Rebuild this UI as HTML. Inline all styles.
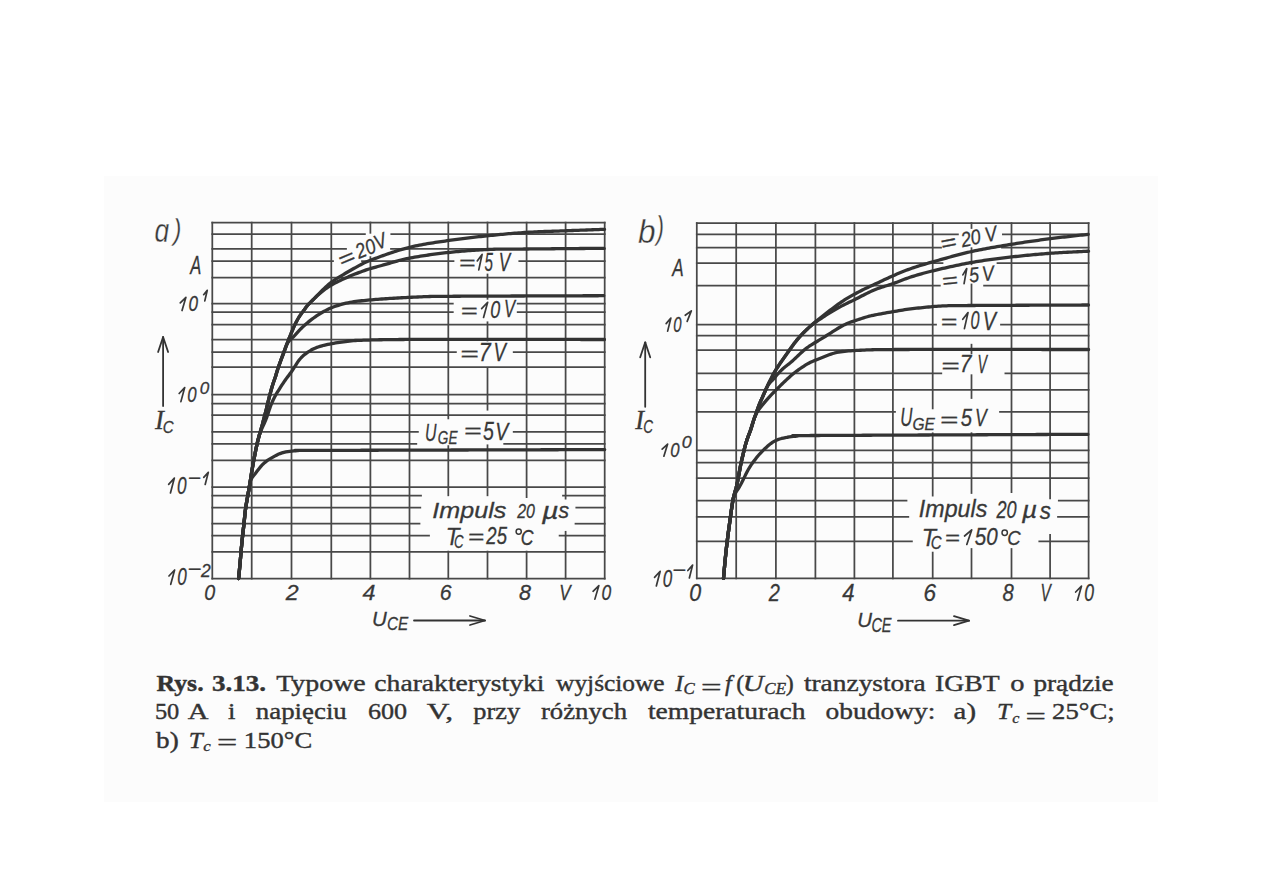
<!DOCTYPE html>
<html><head><meta charset="utf-8">
<style>
html,body{margin:0;padding:0;background:#fff;}
body{width:1263px;height:893px;position:relative;overflow:hidden;}
#scan{position:absolute;left:104px;top:176px;width:1054px;height:626px;background:#fcfcfc;}
svg{position:absolute;left:0;top:0;}
</style></head><body>
<div id="scan"></div>
<svg width="1263" height="893" viewBox="0 0 1263 893">
<g stroke="#484848" stroke-width="1.75" stroke-linecap="square">
<line x1="212.3" y1="222.5" x2="604.7" y2="222.5"/>
<line x1="212.3" y1="234.0" x2="364.9" y2="234.0"/>
<line x1="391.3" y1="234.0" x2="604.7" y2="234.0"/>
<line x1="212.3" y1="248.8" x2="346.0" y2="248.8"/>
<line x1="391.0" y1="248.8" x2="604.7" y2="248.8"/>
<line x1="212.3" y1="261.2" x2="333.0" y2="261.2"/>
<line x1="362.0" y1="261.2" x2="453.5" y2="261.2"/>
<line x1="519.3" y1="261.2" x2="604.7" y2="261.2"/>
<line x1="212.3" y1="277.5" x2="604.7" y2="277.5"/>
<line x1="212.3" y1="303.6" x2="452.8" y2="303.6"/>
<line x1="517.7" y1="303.6" x2="604.7" y2="303.6"/>
<line x1="212.3" y1="312.0" x2="452.8" y2="312.0"/>
<line x1="517.7" y1="312.0" x2="604.7" y2="312.0"/>
<line x1="212.3" y1="324.5" x2="604.7" y2="324.5"/>
<line x1="212.3" y1="339.5" x2="604.7" y2="339.5"/>
<line x1="212.3" y1="352.2" x2="455.9" y2="352.2"/>
<line x1="513.7" y1="352.2" x2="604.7" y2="352.2"/>
<line x1="212.3" y1="367.1" x2="604.7" y2="367.1"/>
<line x1="212.3" y1="394.6" x2="604.7" y2="394.6"/>
<line x1="212.3" y1="403.5" x2="604.7" y2="403.5"/>
<line x1="212.3" y1="415.2" x2="604.7" y2="415.2"/>
<line x1="212.3" y1="431.9" x2="417.9" y2="431.9"/>
<line x1="513.7" y1="431.9" x2="604.7" y2="431.9"/>
<line x1="212.3" y1="443.9" x2="416.3" y2="443.9"/>
<line x1="504.2" y1="443.9" x2="604.7" y2="443.9"/>
<line x1="212.3" y1="460.4" x2="604.7" y2="460.4"/>
<line x1="212.3" y1="487.0" x2="604.7" y2="487.0"/>
<line x1="212.3" y1="495.6" x2="421.0" y2="495.6"/>
<line x1="563.0" y1="495.6" x2="604.7" y2="495.6"/>
<line x1="212.3" y1="507.6" x2="420.3" y2="507.6"/>
<line x1="576.3" y1="507.6" x2="604.7" y2="507.6"/>
<line x1="212.3" y1="523.7" x2="419.5" y2="523.7"/>
<line x1="575.5" y1="523.7" x2="604.7" y2="523.7"/>
<line x1="212.3" y1="535.6" x2="429.0" y2="535.6"/>
<line x1="559.6" y1="535.6" x2="604.7" y2="535.6"/>
<line x1="212.3" y1="551.8" x2="604.7" y2="551.8"/>
<line x1="212.3" y1="578.5" x2="604.7" y2="578.5"/>
<line x1="212.3" y1="222.5" x2="212.3" y2="578.5"/>
<line x1="251.7" y1="222.5" x2="251.7" y2="578.5"/>
<line x1="291.5" y1="222.5" x2="291.5" y2="578.5"/>
<line x1="331.3" y1="222.5" x2="331.3" y2="578.5"/>
<line x1="370.4" y1="222.5" x2="370.4" y2="232.8"/>
<line x1="370.4" y1="257.0" x2="370.4" y2="578.5"/>
<line x1="409.5" y1="222.5" x2="409.5" y2="578.5"/>
<line x1="448.3" y1="222.5" x2="448.3" y2="418.4"/>
<line x1="448.3" y1="446.1" x2="448.3" y2="495.3"/>
<line x1="448.3" y1="551.6" x2="448.3" y2="578.5"/>
<line x1="487.5" y1="222.5" x2="487.5" y2="250.2"/>
<line x1="487.5" y1="274.5" x2="487.5" y2="298.8"/>
<line x1="487.5" y1="322.3" x2="487.5" y2="340.5"/>
<line x1="487.5" y1="368.0" x2="487.5" y2="409.7"/>
<line x1="487.5" y1="445.3" x2="487.5" y2="495.3"/>
<line x1="487.5" y1="551.6" x2="487.5" y2="578.5"/>
<line x1="526.6" y1="222.5" x2="526.6" y2="497.0"/>
<line x1="526.6" y1="551.6" x2="526.6" y2="578.5"/>
<line x1="565.6" y1="222.5" x2="565.6" y2="498.5"/>
<line x1="565.6" y1="531.8" x2="565.6" y2="578.5"/>
<line x1="604.7" y1="222.5" x2="604.7" y2="578.5"/>
</g>
<g stroke="#484848" stroke-width="1.75" stroke-linecap="square">
<line x1="696.8" y1="223.0" x2="1088.6" y2="223.0"/>
<line x1="696.8" y1="234.3" x2="957.9" y2="234.3"/>
<line x1="1002.9" y1="234.3" x2="1088.6" y2="234.3"/>
<line x1="696.8" y1="247.5" x2="941.0" y2="247.5"/>
<line x1="1002.0" y1="247.5" x2="1088.6" y2="247.5"/>
<line x1="696.8" y1="263.0" x2="942.5" y2="263.0"/>
<line x1="997.5" y1="263.0" x2="1088.6" y2="263.0"/>
<line x1="696.8" y1="285.5" x2="939.8" y2="285.5"/>
<line x1="984.1" y1="285.5" x2="1088.6" y2="285.5"/>
<line x1="696.8" y1="324.5" x2="936.0" y2="324.5"/>
<line x1="1001.0" y1="324.5" x2="1088.6" y2="324.5"/>
<line x1="696.8" y1="335.5" x2="1088.6" y2="335.5"/>
<line x1="696.8" y1="350.2" x2="1088.6" y2="350.2"/>
<line x1="696.8" y1="373.3" x2="941.3" y2="373.3"/>
<line x1="1005.4" y1="373.3" x2="1088.6" y2="373.3"/>
<line x1="696.8" y1="389.8" x2="1088.6" y2="389.8"/>
<line x1="696.8" y1="411.9" x2="895.0" y2="411.9"/>
<line x1="1000.0" y1="411.9" x2="1088.6" y2="411.9"/>
<line x1="696.8" y1="450.3" x2="1088.6" y2="450.3"/>
<line x1="696.8" y1="462.5" x2="1088.6" y2="462.5"/>
<line x1="696.8" y1="478.0" x2="1088.6" y2="478.0"/>
<line x1="696.8" y1="500.6" x2="906.5" y2="500.6"/>
<line x1="1058.8" y1="500.6" x2="1088.6" y2="500.6"/>
<line x1="696.8" y1="516.9" x2="908.3" y2="516.9"/>
<line x1="1058.0" y1="516.9" x2="1088.6" y2="516.9"/>
<line x1="696.8" y1="541.4" x2="911.9" y2="541.4"/>
<line x1="1039.3" y1="541.4" x2="1088.6" y2="541.4"/>
<line x1="696.8" y1="578.3" x2="1088.6" y2="578.3"/>
<line x1="696.8" y1="223.0" x2="696.8" y2="578.3"/>
<line x1="736.2" y1="223.0" x2="736.2" y2="578.3"/>
<line x1="775.9" y1="223.0" x2="775.9" y2="578.3"/>
<line x1="815.4" y1="223.0" x2="815.4" y2="578.3"/>
<line x1="854.4" y1="223.0" x2="854.4" y2="578.3"/>
<line x1="892.9" y1="223.0" x2="892.9" y2="578.3"/>
<line x1="932.7" y1="223.0" x2="932.7" y2="408.4"/>
<line x1="932.7" y1="433.3" x2="932.7" y2="495.6"/>
<line x1="932.7" y1="552.6" x2="932.7" y2="578.3"/>
<line x1="971.5" y1="223.0" x2="971.5" y2="228.0"/>
<line x1="971.5" y1="248.2" x2="971.5" y2="264.3"/>
<line x1="971.5" y1="284.5" x2="971.5" y2="304.7"/>
<line x1="971.5" y1="344.7" x2="971.5" y2="353.3"/>
<line x1="971.5" y1="375.2" x2="971.5" y2="398.0"/>
<line x1="971.5" y1="433.2" x2="971.5" y2="493.0"/>
<line x1="971.5" y1="549.0" x2="971.5" y2="578.3"/>
<line x1="1011.5" y1="223.0" x2="1011.5" y2="492.0"/>
<line x1="1011.5" y1="549.0" x2="1011.5" y2="578.3"/>
<line x1="1050.1" y1="223.0" x2="1050.1" y2="498.3"/>
<line x1="1050.1" y1="534.8" x2="1050.1" y2="578.3"/>
<line x1="1088.6" y1="223.0" x2="1088.6" y2="578.3"/>
</g>
<g fill="none" stroke="#333" stroke-width="3.3" stroke-linecap="round" stroke-linejoin="round">
<path d="M238.60,578.50 L238.79,576.51 L238.99,574.52 L239.18,572.53 L239.37,570.54 L239.56,568.55 L239.75,566.56 L239.93,564.56 L240.11,562.57 L240.29,560.58 L240.47,558.59 L240.64,556.59 L240.80,554.60 L240.97,552.61 L241.15,550.62 L241.32,548.62 L241.51,546.63 L241.70,544.64 L241.90,542.65 L242.10,540.66 L242.31,538.67 L242.52,536.68 L242.74,534.70 L242.95,532.71 L243.17,530.72 L243.40,528.73 L243.62,526.74 L243.84,524.76 L244.05,522.77 L244.26,520.78 L244.46,518.79 L244.66,516.80 L244.87,514.81 L245.08,512.82 L245.31,510.83 L245.56,508.85 L245.84,506.87 L246.15,504.90 L246.48,502.92 L246.83,500.96 L247.18,498.99 L247.54,497.02 L247.89,495.05 L248.25,493.08 L248.60,491.11 L248.94,489.14 L249.28,487.17 L249.61,485.20 L249.94,483.23 L250.26,481.25 L250.58,479.28 L250.89,477.30 L251.20,475.33 L251.51,473.35 L251.82,471.38 L252.15,469.40 L252.48,467.43 L252.83,465.46 L253.18,463.49 L253.54,461.52 L253.91,459.56 L254.28,457.59 L254.66,455.63 L255.04,453.67 L255.43,451.70 L255.82,449.74 L256.23,447.79 L256.66,445.83 L257.10,443.88 L257.56,441.94 L258.03,439.99 L258.53,438.05 L259.03,436.12 L259.56,434.19 L260.12,432.27 L260.69,430.35 L261.26,428.44 L261.83,426.52 L262.37,424.60 L262.87,422.66 L263.37,420.72 L263.86,418.79 L264.36,416.85 L264.88,414.92 L265.40,412.99 L265.90,411.05 L266.38,409.11 L266.84,407.16 L267.30,405.22 L267.75,403.27 L268.22,401.32 L268.70,399.38 L269.19,397.45 L269.70,395.51 L270.21,393.58 L270.72,391.64 L271.25,389.71 L271.78,387.79 L272.35,385.87 L272.95,383.96 L273.59,382.07 L274.25,380.18 L274.91,378.30 L275.54,376.40 L276.12,374.49 L276.69,372.57 L277.26,370.66 L277.86,368.75 L278.50,366.85 L279.15,364.97 L279.83,363.08 L280.52,361.21 L281.21,359.33 L281.91,357.46 L282.62,355.59 L283.33,353.72 L284.03,351.84 L284.72,349.97 L285.40,348.09 L286.08,346.21 L286.77,344.33 L287.47,342.46 L288.20,340.59 L288.94,338.73 L289.69,336.88 L290.45,335.03 L291.21,333.18 L291.98,331.34 L292.76,329.49 L293.55,327.66 L294.38,325.84 L295.23,324.03 L296.13,322.24 L297.06,320.48 L298.04,318.73 L299.06,317.01 L300.14,315.34 L301.29,313.71 L302.49,312.12 L303.69,310.53 L304.86,308.92 L306.02,307.31 L307.25,305.74 L308.56,304.25 L309.95,302.82 L311.38,301.43 L312.80,300.02 L314.21,298.60 L315.60,297.16 L316.98,295.72 L318.37,294.28 L319.77,292.86 L321.19,291.44 L322.61,290.04 L324.05,288.64 L325.49,287.27 L326.96,285.91 L328.46,284.59 L329.99,283.31 L331.57,282.08 L333.19,280.90 L334.84,279.78 L336.52,278.70 L338.22,277.64 L339.93,276.60 L341.64,275.57 L343.36,274.55 L345.08,273.53 L346.80,272.52 L348.54,271.52 L350.27,270.53 L352.01,269.54 L353.75,268.55 L355.49,267.57 L357.23,266.58 L358.98,265.61 L360.74,264.67 L362.52,263.75 L364.31,262.87 L366.13,262.04 L367.97,261.25 L369.82,260.50 L371.68,259.78 L373.55,259.07 L375.43,258.37 L377.30,257.68 L379.18,256.99 L381.06,256.30 L382.94,255.62 L384.82,254.94 L386.71,254.27 L388.59,253.61 L390.48,252.96 L392.38,252.32 L394.28,251.70 L396.19,251.11 L398.11,250.54 L400.03,249.99 L401.96,249.46 L403.89,248.95 L405.83,248.45 L407.76,247.95 L409.70,247.44 L411.63,246.92 L413.57,246.42 L415.51,245.96 L417.46,245.53 L419.42,245.13 L421.39,244.77 L423.36,244.41 L425.33,244.07 L427.30,243.74 L429.27,243.41 L431.25,243.09 L433.22,242.78 L435.20,242.47 L437.18,242.17 L439.15,241.87 L441.13,241.58 L443.11,241.29 L445.09,241.01 L447.07,240.73 L449.05,240.46 L451.03,240.19 L453.02,239.93 L455.00,239.67 L456.98,239.41 L458.97,239.15 L460.95,238.90 L462.93,238.64 L464.92,238.40 L466.90,238.15 L468.89,237.91 L470.87,237.67 L472.86,237.43 L474.85,237.19 L476.83,236.96 L478.82,236.73 L480.81,236.51 L482.79,236.29 L484.78,236.07 L486.77,235.86 L488.76,235.65 L490.75,235.44 L492.74,235.24 L494.73,235.04 L496.72,234.84 L498.71,234.65 L500.70,234.46 L502.69,234.27 L504.68,234.09 L506.68,233.91 L508.67,233.73 L510.66,233.56 L512.65,233.40 L514.65,233.23 L516.64,233.08 L518.64,232.93 L520.63,232.78 L522.63,232.64 L524.62,232.50 L526.62,232.38 L528.61,232.25 L530.61,232.14 L532.61,232.04 L534.60,231.94 L536.60,231.84 L538.60,231.76 L540.60,231.67 L542.60,231.60 L544.60,231.52 L546.59,231.45 L548.59,231.38 L550.59,231.31 L552.59,231.24 L554.59,231.18 L556.59,231.11 L558.59,231.04 L560.59,230.97 L562.58,230.90 L564.58,230.82 L566.58,230.75 L568.58,230.67 L570.58,230.59 L572.58,230.51 L574.58,230.44 L576.57,230.36 L578.57,230.28 L580.57,230.21 L582.57,230.13 L584.57,230.06 L586.57,229.98 L588.57,229.91 L590.56,229.83 L592.56,229.76 L594.56,229.68 L596.56,229.61 L598.56,229.53 L600.56,229.46 L602.56,229.38 L604.55,229.31"/>
<path d="M238.60,578.50 L238.79,576.51 L238.99,574.52 L239.18,572.53 L239.37,570.54 L239.56,568.55 L239.75,566.56 L239.93,564.56 L240.11,562.57 L240.29,560.58 L240.47,558.59 L240.64,556.59 L240.80,554.60 L240.97,552.61 L241.15,550.62 L241.32,548.62 L241.51,546.63 L241.70,544.64 L241.90,542.65 L242.10,540.66 L242.31,538.67 L242.52,536.68 L242.74,534.70 L242.95,532.71 L243.17,530.72 L243.40,528.73 L243.62,526.74 L243.84,524.76 L244.05,522.77 L244.26,520.78 L244.46,518.79 L244.66,516.80 L244.87,514.81 L245.08,512.82 L245.31,510.83 L245.56,508.85 L245.84,506.87 L246.15,504.90 L246.48,502.92 L246.83,500.96 L247.18,498.99 L247.54,497.02 L247.89,495.05 L248.25,493.08 L248.60,491.11 L248.94,489.14 L249.28,487.17 L249.61,485.20 L249.94,483.23 L250.26,481.25 L250.58,479.28 L250.89,477.30 L251.20,475.33 L251.51,473.35 L251.82,471.38 L252.15,469.40 L252.48,467.43 L252.83,465.46 L253.18,463.49 L253.54,461.52 L253.91,459.56 L254.28,457.59 L254.66,455.63 L255.04,453.67 L255.43,451.70 L255.82,449.74 L256.23,447.79 L256.66,445.83 L257.10,443.88 L257.56,441.94 L258.03,439.99 L258.53,438.05 L259.03,436.12 L259.56,434.19 L260.12,432.27 L260.69,430.35 L261.26,428.44 L261.83,426.52 L262.37,424.60 L262.87,422.66 L263.37,420.72 L263.86,418.79 L264.36,416.85 L264.88,414.92 L265.40,412.99 L265.90,411.05 L266.38,409.11 L266.84,407.16 L267.30,405.22 L267.75,403.27 L268.22,401.32 L268.70,399.38 L269.19,397.45 L269.70,395.51 L270.21,393.58 L270.72,391.64 L271.25,389.71 L271.78,387.79 L272.35,385.87 L272.95,383.96 L273.59,382.07 L274.25,380.18 L274.91,378.30 L275.54,376.40 L276.12,374.49 L276.69,372.57 L277.26,370.66 L277.86,368.75 L278.50,366.85 L279.15,364.97 L279.83,363.08 L280.52,361.21 L281.21,359.33 L281.91,357.46 L282.62,355.59 L283.33,353.72 L284.03,351.84 L284.72,349.97 L285.40,348.09 L286.08,346.21 L286.77,344.33 L287.47,342.46 L288.20,340.59 L288.94,338.73 L289.69,336.88 L290.45,335.03 L291.21,333.18 L291.98,331.34 L292.76,329.49 L293.55,327.66 L294.38,325.84 L295.23,324.03 L296.13,322.24 L297.06,320.48 L298.04,318.73 L299.06,317.01 L300.14,315.34 L301.29,313.71 L302.49,312.12 L303.69,310.53 L304.86,308.92 L306.02,307.31 L307.24,305.74 L308.55,304.24 L309.94,302.81 L311.37,301.42 L312.81,300.03 L314.24,298.63 L315.67,297.24 L317.11,295.85 L318.58,294.49 L320.08,293.17 L321.62,291.90 L323.19,290.66 L324.78,289.45 L326.40,288.28 L328.05,287.15 L329.72,286.06 L331.43,285.03 L333.17,284.04 L334.93,283.09 L336.71,282.18 L338.50,281.30 L340.31,280.45 L342.13,279.60 L343.95,278.78 L345.77,277.96 L347.60,277.16 L349.44,276.37 L351.29,275.60 L353.14,274.84 L354.99,274.09 L356.85,273.36 L358.72,272.63 L360.59,271.93 L362.46,271.23 L364.35,270.57 L366.24,269.92 L368.14,269.30 L370.05,268.70 L371.97,268.13 L373.89,267.58 L375.81,267.04 L377.74,266.51 L379.67,265.99 L381.60,265.47 L383.53,264.94 L385.46,264.41 L387.39,263.87 L389.31,263.31 L391.22,262.74 L393.14,262.17 L395.06,261.60 L396.98,261.05 L398.91,260.53 L400.85,260.04 L402.80,259.58 L404.75,259.14 L406.70,258.72 L408.66,258.32 L410.62,257.94 L412.59,257.57 L414.56,257.22 L416.53,256.88 L418.50,256.55 L420.48,256.23 L422.45,255.92 L424.43,255.61 L426.40,255.30 L428.38,255.00 L430.36,254.71 L432.34,254.43 L434.32,254.15 L436.30,253.88 L438.28,253.62 L440.27,253.38 L442.26,253.14 L444.24,252.91 L446.23,252.69 L448.22,252.49 L450.21,252.29 L452.20,252.09 L454.19,251.90 L456.18,251.72 L458.17,251.54 L460.17,251.36 L462.16,251.19 L464.15,251.03 L466.15,250.87 L468.14,250.71 L470.13,250.56 L472.13,250.41 L474.12,250.27 L476.12,250.14 L478.11,250.01 L480.11,249.89 L482.11,249.77 L484.11,249.66 L486.10,249.57 L488.10,249.48 L490.10,249.40 L492.10,249.33 L494.10,249.27 L496.10,249.22 L498.10,249.18 L500.10,249.15 L502.10,249.13 L504.09,249.11 L506.09,249.10 L508.09,249.09 L510.09,249.09 L512.09,249.08 L514.09,249.08 L516.09,249.07 L518.09,249.06 L520.09,249.05 L522.09,249.03 L524.09,249.02 L526.09,249.00 L528.09,248.98 L530.09,248.96 L532.09,248.94 L534.09,248.92 L536.09,248.90 L538.09,248.88 L540.09,248.87 L542.09,248.85 L544.09,248.83 L546.09,248.81 L548.09,248.79 L550.09,248.78 L552.09,248.76 L554.09,248.74 L556.09,248.72 L558.09,248.70 L560.09,248.69 L562.09,248.67 L564.09,248.65 L566.09,248.63 L568.09,248.62 L570.09,248.60 L572.09,248.58 L574.09,248.56 L576.09,248.55 L578.09,248.53 L580.09,248.51 L582.09,248.50 L584.09,248.48 L586.09,248.46 L588.09,248.44 L590.09,248.43 L592.09,248.41 L594.09,248.39 L596.09,248.37 L598.09,248.36 L600.09,248.34 L602.09,248.32 L604.09,248.31"/>
<path d="M238.60,578.50 L238.79,576.51 L238.99,574.52 L239.18,572.53 L239.37,570.54 L239.56,568.55 L239.75,566.56 L239.93,564.56 L240.11,562.57 L240.29,560.58 L240.47,558.59 L240.64,556.59 L240.80,554.60 L240.97,552.61 L241.15,550.62 L241.32,548.62 L241.51,546.63 L241.70,544.64 L241.90,542.65 L242.10,540.66 L242.31,538.67 L242.52,536.68 L242.74,534.70 L242.95,532.71 L243.17,530.72 L243.40,528.73 L243.62,526.74 L243.84,524.76 L244.05,522.77 L244.26,520.78 L244.46,518.79 L244.66,516.80 L244.87,514.81 L245.08,512.82 L245.31,510.83 L245.56,508.85 L245.84,506.87 L246.15,504.90 L246.48,502.92 L246.83,500.96 L247.18,498.99 L247.54,497.02 L247.89,495.05 L248.25,493.08 L248.60,491.11 L248.94,489.14 L249.28,487.17 L249.61,485.20 L249.94,483.23 L250.26,481.25 L250.58,479.28 L250.89,477.30 L251.20,475.33 L251.51,473.35 L251.82,471.38 L252.15,469.40 L252.48,467.43 L252.83,465.46 L253.18,463.49 L253.54,461.52 L253.91,459.56 L254.28,457.59 L254.66,455.63 L255.04,453.67 L255.43,451.70 L255.82,449.74 L256.23,447.79 L256.66,445.83 L257.10,443.88 L257.56,441.94 L258.03,439.99 L258.53,438.05 L259.03,436.12 L259.56,434.19 L260.12,432.27 L260.69,430.35 L261.26,428.44 L261.83,426.52 L262.37,424.60 L262.87,422.66 L263.37,420.72 L263.86,418.79 L264.36,416.85 L264.88,414.92 L265.40,412.99 L265.90,411.05 L266.38,409.11 L266.84,407.16 L267.30,405.22 L267.75,403.27 L268.22,401.32 L268.70,399.38 L269.19,397.45 L269.70,395.51 L270.21,393.58 L270.72,391.64 L271.25,389.71 L271.78,387.79 L272.35,385.87 L272.95,383.96 L273.59,382.07 L274.25,380.18 L274.91,378.30 L275.54,376.40 L276.12,374.49 L276.69,372.57 L277.26,370.66 L277.86,368.75 L278.50,366.85 L279.15,364.97 L279.83,363.08 L280.52,361.21 L281.21,359.33 L281.91,357.46 L282.62,355.59 L283.32,353.72 L284.02,351.84 L284.69,349.96 L285.36,348.08 L286.06,346.21 L286.84,344.39 L287.78,342.69 L288.94,341.14 L290.29,339.72 L291.74,338.37 L293.18,337.00 L294.57,335.58 L295.92,334.11 L297.26,332.62 L298.61,331.15 L299.99,329.70 L301.39,328.28 L302.83,326.89 L304.29,325.52 L305.77,324.19 L307.29,322.88 L308.83,321.61 L310.40,320.37 L312.00,319.17 L313.61,317.99 L315.24,316.83 L316.89,315.70 L318.56,314.59 L320.25,313.53 L321.97,312.51 L323.71,311.53 L325.47,310.58 L327.23,309.65 L329.02,308.76 L330.84,307.95 L332.70,307.21 L334.58,306.54 L336.48,305.92 L338.39,305.32 L340.30,304.75 L342.23,304.21 L344.16,303.69 L346.10,303.21 L348.05,302.78 L350.01,302.39 L351.98,302.05 L353.96,301.75 L355.94,301.48 L357.92,301.23 L359.91,300.99 L361.89,300.76 L363.88,300.54 L365.87,300.33 L367.86,300.14 L369.85,299.95 L371.85,299.78 L373.84,299.62 L375.83,299.46 L377.83,299.31 L379.82,299.16 L381.82,299.01 L383.81,298.87 L385.81,298.73 L387.80,298.60 L389.80,298.47 L391.79,298.35 L393.79,298.23 L395.79,298.11 L397.78,297.99 L399.78,297.88 L401.78,297.77 L403.77,297.66 L405.77,297.55 L407.77,297.44 L409.77,297.34 L411.76,297.25 L413.76,297.16 L415.76,297.07 L417.76,296.99 L419.76,296.90 L421.75,296.80 L423.75,296.70 L425.75,296.61 L427.75,296.53 L429.74,296.48 L431.74,296.44 L433.74,296.42 L435.74,296.40 L437.74,296.38 L439.74,296.36 L441.74,296.34 L443.74,296.33 L445.74,296.32 L447.74,296.30 L449.74,296.29 L451.74,296.28 L453.74,296.27 L455.74,296.26 L457.74,296.24 L459.74,296.23 L461.74,296.22 L463.74,296.22 L465.74,296.21 L467.74,296.20 L469.74,296.19 L471.74,296.18 L473.74,296.17 L475.74,296.16 L477.74,296.15 L479.74,296.14 L481.74,296.14 L483.74,296.13 L485.74,296.12 L487.74,296.11 L489.74,296.10 L491.74,296.10 L493.74,296.09 L495.74,296.08 L497.74,296.07 L499.74,296.07 L501.74,296.06 L503.74,296.05 L505.74,296.04 L507.74,296.04 L509.74,296.03 L511.74,296.02 L513.74,296.01 L515.74,296.01 L517.74,296.00 L519.74,295.99 L521.74,295.98 L523.74,295.98 L525.74,295.97 L527.74,295.96 L529.74,295.96 L531.74,295.95 L533.74,295.94 L535.74,295.94 L537.74,295.93 L539.74,295.92 L541.74,295.92 L543.74,295.91 L545.74,295.90 L547.74,295.89 L549.74,295.89 L551.74,295.88 L553.74,295.87 L555.74,295.87 L557.74,295.86 L559.74,295.85 L561.74,295.85 L563.74,295.84 L565.74,295.83 L567.74,295.83 L569.74,295.82 L571.74,295.81 L573.74,295.81 L575.74,295.80 L577.74,295.79 L579.74,295.79 L581.74,295.78 L583.74,295.77 L585.74,295.77 L587.74,295.76 L589.74,295.75 L591.74,295.75 L593.74,295.74 L595.74,295.73 L597.74,295.73 L599.74,295.72 L601.74,295.71 L603.74,295.70"/>
<path d="M238.60,578.50 L238.79,576.51 L238.99,574.52 L239.18,572.53 L239.37,570.54 L239.56,568.55 L239.75,566.56 L239.93,564.56 L240.11,562.57 L240.29,560.58 L240.47,558.59 L240.64,556.59 L240.80,554.60 L240.97,552.61 L241.15,550.62 L241.32,548.62 L241.51,546.63 L241.70,544.64 L241.90,542.65 L242.10,540.66 L242.31,538.67 L242.52,536.68 L242.74,534.70 L242.95,532.71 L243.17,530.72 L243.40,528.73 L243.62,526.74 L243.84,524.76 L244.05,522.77 L244.26,520.78 L244.46,518.79 L244.66,516.80 L244.87,514.81 L245.08,512.82 L245.31,510.83 L245.56,508.85 L245.84,506.87 L246.15,504.90 L246.48,502.92 L246.83,500.96 L247.18,498.99 L247.54,497.02 L247.89,495.05 L248.25,493.08 L248.60,491.11 L248.94,489.14 L249.28,487.17 L249.61,485.20 L249.94,483.23 L250.26,481.25 L250.58,479.28 L250.89,477.30 L251.20,475.33 L251.51,473.35 L251.82,471.38 L252.15,469.40 L252.48,467.43 L252.83,465.46 L253.18,463.49 L253.54,461.52 L253.91,459.56 L254.28,457.59 L254.66,455.63 L255.04,453.67 L255.43,451.70 L255.82,449.74 L256.23,447.79 L256.65,445.83 L257.08,443.88 L257.53,441.93 L257.99,439.98 L258.49,438.05 L259.03,436.12 L259.63,434.22 L260.31,432.34 L261.05,430.49 L261.84,428.65 L262.65,426.83 L263.48,425.01 L264.32,423.19 L265.13,421.36 L265.91,419.52 L266.63,417.66 L267.29,415.77 L267.93,413.88 L268.55,411.98 L269.18,410.08 L269.83,408.19 L270.51,406.31 L271.23,404.44 L271.99,402.59 L272.78,400.76 L273.63,398.95 L274.52,397.17 L275.48,395.41 L276.48,393.69 L277.53,391.98 L278.58,390.28 L279.65,388.59 L280.72,386.90 L281.80,385.22 L282.90,383.55 L284.02,381.89 L285.16,380.25 L286.32,378.62 L287.50,377.00 L288.70,375.40 L289.91,373.81 L291.11,372.21 L292.27,370.59 L293.37,368.93 L294.43,367.23 L295.47,365.53 L296.53,363.83 L297.63,362.16 L298.79,360.54 L300.03,358.98 L301.36,357.50 L302.79,356.11 L304.30,354.82 L305.87,353.59 L307.50,352.43 L309.16,351.33 L310.86,350.28 L312.60,349.31 L314.39,348.44 L316.23,347.66 L318.10,346.97 L320.00,346.36 L321.92,345.80 L323.85,345.28 L325.80,344.82 L327.75,344.40 L329.71,344.01 L331.68,343.66 L333.65,343.32 L335.62,342.99 L337.60,342.67 L339.57,342.36 L341.55,342.07 L343.53,341.79 L345.51,341.52 L347.49,341.26 L349.48,341.01 L351.47,340.80 L353.46,340.64 L355.45,340.52 L357.45,340.42 L359.45,340.35 L361.45,340.28 L363.45,340.21 L365.45,340.15 L367.44,340.09 L369.44,340.03 L371.44,339.97 L373.44,339.91 L375.44,339.86 L377.44,339.82 L379.44,339.77 L381.44,339.73 L383.44,339.70 L385.44,339.67 L387.44,339.64 L389.44,339.61 L391.44,339.59 L393.44,339.57 L395.44,339.55 L397.44,339.53 L399.44,339.51 L401.44,339.50 L403.44,339.48 L405.44,339.47 L407.44,339.46 L409.44,339.45 L411.44,339.44 L413.44,339.43 L415.44,339.42 L417.44,339.41 L419.44,339.40 L421.44,339.40 L423.44,339.39 L425.44,339.39 L427.44,339.38 L429.44,339.38 L431.44,339.37 L433.44,339.37 L435.44,339.37 L437.44,339.37 L439.44,339.36 L441.44,339.36 L443.44,339.36 L445.44,339.36 L447.44,339.36 L449.44,339.36 L451.44,339.36 L453.44,339.36 L455.44,339.36 L457.44,339.36 L459.44,339.36 L461.44,339.36 L463.44,339.36 L465.44,339.36 L467.44,339.36 L469.44,339.36 L471.44,339.36 L473.44,339.36 L475.44,339.36 L477.44,339.36 L479.44,339.36 L481.44,339.36 L483.44,339.37 L485.44,339.37 L487.44,339.37 L489.44,339.37 L491.44,339.37 L493.44,339.37 L495.44,339.37 L497.44,339.38 L499.44,339.38 L501.44,339.38 L503.44,339.38 L505.44,339.38 L507.44,339.39 L509.44,339.39 L511.44,339.39 L513.44,339.39 L515.44,339.39 L517.44,339.40 L519.44,339.40 L521.44,339.40 L523.44,339.40 L525.44,339.40 L527.44,339.41 L529.44,339.41 L531.44,339.41 L533.44,339.41 L535.44,339.42 L537.44,339.42 L539.44,339.42 L541.44,339.42 L543.44,339.43 L545.44,339.43 L547.44,339.43 L549.44,339.43 L551.44,339.44 L553.44,339.44 L555.44,339.44 L557.44,339.44 L559.44,339.45 L561.44,339.45 L563.44,339.45 L565.44,339.45 L567.44,339.46 L569.44,339.46 L571.44,339.46 L573.44,339.46 L575.44,339.47 L577.44,339.47 L579.44,339.47 L581.44,339.48 L583.44,339.48 L585.44,339.48 L587.44,339.48 L589.44,339.49 L591.44,339.49 L593.44,339.49 L595.44,339.49 L597.44,339.49 L599.44,339.50 L601.44,339.50 L603.44,339.50 L604.44,339.50"/>
<path d="M238.60,578.50 L238.79,576.51 L238.99,574.52 L239.18,572.53 L239.37,570.54 L239.56,568.55 L239.75,566.56 L239.93,564.56 L240.11,562.57 L240.29,560.58 L240.47,558.59 L240.64,556.59 L240.80,554.60 L240.97,552.61 L241.15,550.62 L241.32,548.62 L241.51,546.63 L241.70,544.64 L241.90,542.65 L242.10,540.66 L242.31,538.67 L242.52,536.68 L242.74,534.70 L242.95,532.71 L243.17,530.72 L243.40,528.73 L243.62,526.74 L243.84,524.76 L244.05,522.77 L244.26,520.78 L244.46,518.79 L244.66,516.80 L244.87,514.81 L245.08,512.82 L245.31,510.83 L245.56,508.85 L245.84,506.87 L246.15,504.90 L246.48,502.92 L246.83,500.96 L247.18,498.99 L247.54,497.02 L247.89,495.05 L248.24,493.08 L248.58,491.11 L248.91,489.14 L249.22,487.16 L249.54,485.19 L249.89,483.23 L250.35,481.32 L251.03,479.51 L251.96,477.84 L253.11,476.27 L254.35,474.74 L255.59,473.19 L256.81,471.61 L258.01,470.01 L259.22,468.42 L260.47,466.87 L261.79,465.37 L263.18,463.94 L264.65,462.61 L266.21,461.36 L267.84,460.22 L269.53,459.16 L271.25,458.14 L272.98,457.15 L274.72,456.16 L276.48,455.22 L278.27,454.34 L280.10,453.57 L281.98,452.91 L283.89,452.35 L285.84,451.90 L287.80,451.55 L289.78,451.28 L291.76,451.08 L293.73,450.92 L295.60,450.79 L297.15,450.70 L298.00,450.62 L297.87,450.57 L296.90,450.54 L295.67,450.52 L294.88,450.51 L295.03,450.50 L296.10,450.49 L297.78,450.48 L299.69,450.47 L301.68,450.46 L303.68,450.45 L305.68,450.45 L307.68,450.44 L309.68,450.43 L311.68,450.43 L313.68,450.42 L315.68,450.41 L317.68,450.41 L319.68,450.40 L321.68,450.39 L323.68,450.39 L325.68,450.38 L327.68,450.38 L329.68,450.37 L331.68,450.36 L333.68,450.36 L335.68,450.35 L337.68,450.34 L339.68,450.34 L341.68,450.33 L343.68,450.33 L345.68,450.32 L347.68,450.31 L349.68,450.31 L351.68,450.30 L353.68,450.30 L355.68,450.29 L357.68,450.29 L359.68,450.28 L361.68,450.27 L363.68,450.27 L365.68,450.26 L367.68,450.26 L369.68,450.25 L371.68,450.25 L373.68,450.24 L375.68,450.23 L377.68,450.23 L379.68,450.22 L381.68,450.22 L383.68,450.21 L385.68,450.21 L387.68,450.20 L389.68,450.19 L391.68,450.19 L393.68,450.18 L395.68,450.18 L397.68,450.17 L399.68,450.17 L401.68,450.16 L403.68,450.15 L405.68,450.15 L407.68,450.14 L409.68,450.14 L411.68,450.13 L413.68,450.13 L415.68,450.12 L417.68,450.11 L419.68,450.11 L421.68,450.10 L423.68,450.10 L425.68,450.09 L427.68,450.09 L429.68,450.08 L431.68,450.08 L433.68,450.07 L435.68,450.06 L437.68,450.06 L439.68,450.05 L441.68,450.05 L443.68,450.04 L445.68,450.04 L447.68,450.03 L449.68,450.03 L451.68,450.02 L453.68,450.01 L455.68,450.01 L457.68,450.00 L459.68,450.00 L461.68,449.99 L463.68,449.99 L465.68,449.98 L467.68,449.98 L469.68,449.97 L471.68,449.97 L473.68,449.96 L475.68,449.95 L477.68,449.95 L479.68,449.94 L481.68,449.94 L483.68,449.93 L485.68,449.93 L487.68,449.92 L489.68,449.92 L491.68,449.91 L493.68,449.90 L495.68,449.90 L497.68,449.89 L499.68,449.89 L501.68,449.88 L503.68,449.88 L505.68,449.87 L507.68,449.87 L509.68,449.86 L511.68,449.86 L513.68,449.85 L515.68,449.84 L517.68,449.84 L519.68,449.83 L521.68,449.83 L523.68,449.82 L525.68,449.82 L527.68,449.81 L529.68,449.81 L531.68,449.80 L533.68,449.80 L535.68,449.79 L537.68,449.78 L539.68,449.78 L541.68,449.77 L543.68,449.77 L545.68,449.76 L547.68,449.76 L549.68,449.75 L551.68,449.75 L553.68,449.74 L555.68,449.74 L557.68,449.73 L559.68,449.72 L561.68,449.72 L563.68,449.71 L565.68,449.71 L567.68,449.70 L569.68,449.70 L571.68,449.69 L573.68,449.69 L575.68,449.68 L577.68,449.67 L579.68,449.67 L581.68,449.66 L583.68,449.66 L585.68,449.65 L587.68,449.65 L589.68,449.64 L591.68,449.64 L593.68,449.63 L595.68,449.63 L597.68,449.62 L599.68,449.61 L601.68,449.61 L603.68,449.60 L604.68,449.60"/>
<path d="M723.50,578.30 L723.68,576.31 L723.85,574.32 L724.03,572.32 L724.20,570.33 L724.38,568.34 L724.56,566.35 L724.74,564.36 L724.93,562.36 L725.12,560.37 L725.31,558.38 L725.52,556.39 L725.72,554.40 L725.94,552.41 L726.15,550.43 L726.37,548.44 L726.60,546.45 L726.83,544.47 L727.07,542.48 L727.31,540.49 L727.56,538.51 L727.82,536.53 L728.07,534.54 L728.33,532.56 L728.60,530.58 L728.86,528.60 L729.13,526.61 L729.40,524.63 L729.67,522.65 L729.94,520.67 L730.21,518.69 L730.48,516.70 L730.75,514.72 L731.03,512.74 L731.30,510.76 L731.59,508.78 L731.88,506.80 L732.18,504.83 L732.50,502.85 L732.85,500.88 L733.23,498.92 L733.65,496.97 L734.12,495.02 L734.63,493.09 L735.19,491.17 L735.75,489.25 L736.28,487.33 L736.76,485.39 L737.19,483.44 L737.59,481.48 L737.96,479.51 L738.33,477.55 L738.69,475.58 L739.05,473.61 L739.41,471.65 L739.77,469.68 L740.14,467.71 L740.51,465.75 L740.91,463.79 L741.33,461.84 L741.78,459.89 L742.23,457.94 L742.70,455.99 L743.16,454.05 L743.63,452.10 L744.10,450.16 L744.58,448.22 L745.08,446.28 L745.61,444.35 L746.16,442.43 L746.75,440.52 L747.38,438.63 L748.06,436.75 L748.78,434.88 L749.50,433.02 L750.20,431.15 L750.86,429.26 L751.47,427.36 L752.05,425.44 L752.62,423.53 L753.21,421.62 L753.83,419.72 L754.49,417.83 L755.18,415.95 L755.87,414.07 L756.54,412.19 L757.19,410.30 L757.84,408.41 L758.51,406.53 L759.23,404.66 L759.98,402.81 L760.77,400.97 L761.58,399.15 L762.41,397.32 L763.23,395.50 L764.04,393.67 L764.85,391.85 L765.66,390.02 L766.48,388.19 L767.31,386.37 L768.15,384.56 L769.00,382.75 L769.88,380.95 L770.78,379.16 L771.69,377.38 L772.62,375.62 L773.58,373.86 L774.56,372.12 L775.57,370.39 L776.62,368.69 L777.69,367.00 L778.79,365.33 L779.91,363.68 L781.04,362.03 L782.19,360.39 L783.33,358.75 L784.48,357.11 L785.62,355.47 L786.78,353.83 L787.93,352.20 L789.09,350.57 L790.25,348.95 L791.42,347.32 L792.59,345.70 L793.77,344.08 L794.97,342.49 L796.20,340.91 L797.47,339.36 L798.76,337.84 L800.09,336.35 L801.45,334.88 L802.83,333.43 L804.23,332.01 L805.65,330.60 L807.09,329.21 L808.55,327.84 L810.03,326.50 L811.52,325.17 L813.03,323.86 L814.55,322.56 L816.10,321.29 L817.65,320.04 L819.22,318.80 L820.80,317.57 L822.38,316.35 L823.96,315.12 L825.53,313.88 L827.10,312.64 L828.67,311.40 L830.25,310.17 L831.84,308.95 L833.43,307.75 L835.04,306.55 L836.65,305.37 L838.27,304.20 L839.90,303.05 L841.55,301.91 L843.21,300.80 L844.89,299.72 L846.59,298.67 L848.31,297.64 L850.04,296.64 L851.78,295.65 L853.53,294.68 L855.29,293.73 L857.05,292.78 L858.82,291.85 L860.59,290.93 L862.37,290.02 L864.16,289.12 L865.96,288.25 L867.76,287.39 L869.58,286.54 L871.40,285.72 L873.22,284.89 L875.04,284.07 L876.86,283.24 L878.68,282.40 L880.49,281.55 L882.30,280.69 L884.10,279.84 L885.91,278.99 L887.73,278.14 L889.55,277.31 L891.37,276.49 L893.20,275.68 L895.03,274.89 L896.87,274.10 L898.71,273.32 L900.56,272.55 L902.41,271.80 L904.27,271.06 L906.13,270.33 L908.01,269.63 L909.89,268.95 L911.77,268.28 L913.66,267.64 L915.56,267.01 L917.47,266.39 L919.37,265.79 L921.28,265.20 L923.20,264.63 L925.12,264.06 L927.04,263.50 L928.96,262.95 L930.88,262.40 L932.81,261.85 L934.73,261.31 L936.66,260.76 L938.58,260.22 L940.50,259.67 L942.43,259.13 L944.35,258.58 L946.28,258.04 L948.20,257.50 L950.13,256.97 L952.06,256.44 L953.99,255.92 L955.92,255.40 L957.86,254.89 L959.79,254.38 L961.73,253.89 L963.67,253.40 L965.61,252.92 L967.56,252.45 L969.50,252.00 L971.45,251.56 L973.41,251.13 L975.36,250.71 L977.32,250.31 L979.28,249.91 L981.24,249.52 L983.21,249.14 L985.17,248.77 L987.14,248.41 L989.11,248.05 L991.08,247.70 L993.05,247.36 L995.02,247.02 L996.99,246.68 L998.96,246.35 L1000.93,246.02 L1002.91,245.69 L1004.88,245.37 L1006.85,245.04 L1008.83,244.72 L1010.80,244.40 L1012.78,244.08 L1014.75,243.76 L1016.73,243.45 L1018.70,243.14 L1020.68,242.84 L1022.66,242.54 L1024.63,242.24 L1026.61,241.95 L1028.59,241.66 L1030.57,241.37 L1032.55,241.09 L1034.53,240.81 L1036.51,240.53 L1038.49,240.26 L1040.47,239.99 L1042.46,239.72 L1044.44,239.46 L1046.42,239.20 L1048.40,238.94 L1050.39,238.68 L1052.37,238.43 L1054.36,238.18 L1056.34,237.94 L1058.33,237.70 L1060.31,237.46 L1062.30,237.23 L1064.29,237.00 L1066.27,236.78 L1068.26,236.55 L1070.25,236.33 L1072.24,236.11 L1074.22,235.89 L1076.21,235.67 L1078.20,235.45 L1080.19,235.23 L1082.18,235.01 L1084.16,234.79 L1086.15,234.57 L1088.14,234.35"/>
<path d="M723.50,578.30 L723.68,576.31 L723.85,574.32 L724.03,572.32 L724.20,570.33 L724.38,568.34 L724.56,566.35 L724.74,564.36 L724.93,562.36 L725.12,560.37 L725.31,558.38 L725.52,556.39 L725.72,554.40 L725.94,552.41 L726.15,550.43 L726.37,548.44 L726.60,546.45 L726.83,544.47 L727.07,542.48 L727.31,540.49 L727.56,538.51 L727.82,536.53 L728.07,534.54 L728.33,532.56 L728.60,530.58 L728.86,528.60 L729.13,526.61 L729.40,524.63 L729.67,522.65 L729.94,520.67 L730.21,518.69 L730.48,516.70 L730.75,514.72 L731.03,512.74 L731.30,510.76 L731.59,508.78 L731.88,506.80 L732.18,504.83 L732.50,502.85 L732.85,500.88 L733.23,498.92 L733.65,496.97 L734.12,495.02 L734.63,493.09 L735.19,491.17 L735.75,489.25 L736.28,487.33 L736.76,485.39 L737.19,483.44 L737.59,481.48 L737.96,479.51 L738.33,477.55 L738.69,475.58 L739.05,473.61 L739.41,471.65 L739.77,469.68 L740.14,467.71 L740.51,465.75 L740.91,463.79 L741.33,461.84 L741.78,459.89 L742.23,457.94 L742.70,455.99 L743.16,454.05 L743.63,452.10 L744.10,450.16 L744.58,448.22 L745.08,446.28 L745.61,444.35 L746.16,442.43 L746.75,440.52 L747.38,438.63 L748.06,436.75 L748.78,434.88 L749.50,433.02 L750.20,431.15 L750.86,429.26 L751.47,427.36 L752.05,425.44 L752.62,423.53 L753.21,421.62 L753.83,419.72 L754.49,417.83 L755.18,415.95 L755.87,414.07 L756.54,412.19 L757.19,410.30 L757.84,408.41 L758.51,406.53 L759.23,404.66 L759.98,402.81 L760.77,400.97 L761.58,399.15 L762.41,397.32 L763.23,395.50 L764.04,393.67 L764.85,391.85 L765.66,390.02 L766.48,388.19 L767.31,386.37 L768.15,384.56 L769.00,382.75 L769.88,380.95 L770.78,379.16 L771.69,377.38 L772.62,375.62 L773.58,373.86 L774.56,372.12 L775.57,370.39 L776.62,368.69 L777.69,367.00 L778.79,365.33 L779.91,363.68 L781.04,362.03 L782.19,360.39 L783.33,358.75 L784.48,357.11 L785.62,355.47 L786.78,353.83 L787.93,352.20 L789.09,350.57 L790.25,348.95 L791.42,347.32 L792.59,345.70 L793.77,344.08 L794.97,342.49 L796.20,340.91 L797.47,339.36 L798.76,337.84 L800.09,336.35 L801.45,334.88 L802.83,333.43 L804.22,332.00 L805.64,330.59 L807.08,329.20 L808.55,327.84 L810.04,326.52 L811.58,325.24 L813.14,324.00 L814.74,322.80 L816.36,321.63 L818.01,320.49 L819.67,319.38 L821.34,318.28 L823.02,317.19 L824.69,316.09 L826.36,314.99 L828.03,313.89 L829.71,312.81 L831.41,311.75 L833.12,310.72 L834.85,309.72 L836.59,308.74 L838.35,307.78 L840.11,306.84 L841.88,305.91 L843.66,305.00 L845.45,304.10 L847.25,303.23 L849.05,302.36 L850.86,301.50 L852.66,300.63 L854.45,299.74 L856.23,298.84 L858.01,297.92 L859.78,297.00 L861.56,296.08 L863.34,295.16 L865.12,294.26 L866.91,293.36 L868.71,292.48 L870.51,291.62 L872.33,290.78 L874.16,289.98 L876.01,289.23 L877.88,288.52 L879.76,287.86 L881.66,287.23 L883.57,286.63 L885.48,286.04 L887.39,285.46 L889.30,284.86 L891.20,284.24 L893.09,283.59 L894.97,282.91 L896.85,282.21 L898.71,281.50 L900.58,280.77 L902.44,280.05 L904.31,279.33 L906.18,278.63 L908.06,277.96 L909.96,277.31 L911.85,276.68 L913.76,276.07 L915.67,275.48 L917.58,274.90 L919.50,274.34 L921.43,273.80 L923.36,273.26 L925.29,272.75 L927.22,272.24 L929.16,271.75 L931.10,271.27 L933.04,270.80 L934.99,270.33 L936.93,269.86 L938.88,269.40 L940.83,268.94 L942.77,268.48 L944.72,268.03 L946.67,267.58 L948.62,267.14 L950.57,266.70 L952.53,266.27 L954.48,265.84 L956.43,265.42 L958.39,265.01 L960.35,264.60 L962.31,264.20 L964.27,263.81 L966.23,263.43 L968.20,263.06 L970.17,262.70 L972.14,262.35 L974.11,262.01 L976.08,261.69 L978.05,261.37 L980.03,261.06 L982.01,260.77 L983.99,260.48 L985.97,260.19 L987.95,259.92 L989.93,259.65 L991.91,259.38 L993.90,259.12 L995.88,258.87 L997.86,258.62 L999.85,258.38 L1001.83,258.13 L1003.82,257.89 L1005.81,257.66 L1007.79,257.42 L1009.78,257.19 L1011.76,256.96 L1013.75,256.73 L1015.74,256.51 L1017.73,256.29 L1019.72,256.07 L1021.70,255.86 L1023.69,255.66 L1025.68,255.45 L1027.67,255.26 L1029.66,255.06 L1031.66,254.87 L1033.65,254.69 L1035.64,254.51 L1037.63,254.33 L1039.62,254.16 L1041.62,253.99 L1043.61,253.82 L1045.60,253.66 L1047.60,253.50 L1049.59,253.35 L1051.59,253.21 L1053.58,253.07 L1055.58,252.93 L1057.57,252.81 L1059.57,252.69 L1061.56,252.57 L1063.56,252.46 L1065.56,252.35 L1067.56,252.24 L1069.55,252.14 L1071.55,252.03 L1073.55,251.93 L1075.55,251.84 L1077.54,251.74 L1079.54,251.64 L1081.54,251.55 L1083.54,251.45 L1085.53,251.35 L1087.53,251.25 L1088.53,251.20"/>
<path d="M723.50,578.30 L723.68,576.31 L723.85,574.32 L724.03,572.32 L724.20,570.33 L724.38,568.34 L724.56,566.35 L724.74,564.36 L724.93,562.36 L725.12,560.37 L725.31,558.38 L725.52,556.39 L725.72,554.40 L725.94,552.41 L726.15,550.43 L726.37,548.44 L726.60,546.45 L726.83,544.47 L727.07,542.48 L727.31,540.49 L727.56,538.51 L727.82,536.53 L728.07,534.54 L728.33,532.56 L728.60,530.58 L728.86,528.60 L729.13,526.61 L729.40,524.63 L729.67,522.65 L729.94,520.67 L730.21,518.69 L730.48,516.70 L730.75,514.72 L731.03,512.74 L731.30,510.76 L731.59,508.78 L731.88,506.80 L732.18,504.83 L732.50,502.85 L732.85,500.88 L733.23,498.92 L733.65,496.97 L734.12,495.02 L734.63,493.09 L735.19,491.17 L735.75,489.25 L736.28,487.33 L736.76,485.39 L737.19,483.44 L737.59,481.48 L737.96,479.51 L738.33,477.55 L738.69,475.58 L739.05,473.61 L739.41,471.65 L739.77,469.68 L740.14,467.71 L740.51,465.75 L740.91,463.79 L741.33,461.84 L741.78,459.89 L742.23,457.94 L742.70,455.99 L743.16,454.05 L743.63,452.10 L744.10,450.16 L744.58,448.22 L745.08,446.28 L745.61,444.35 L746.16,442.43 L746.75,440.52 L747.38,438.63 L748.06,436.75 L748.78,434.88 L749.50,433.02 L750.20,431.15 L750.86,429.26 L751.47,427.36 L752.05,425.44 L752.62,423.53 L753.21,421.62 L753.83,419.72 L754.49,417.83 L755.18,415.95 L755.87,414.07 L756.54,412.19 L757.19,410.30 L757.84,408.41 L758.51,406.53 L759.23,404.66 L759.98,402.81 L760.77,400.97 L761.58,399.15 L762.40,397.32 L763.21,395.49 L764.01,393.66 L764.79,391.82 L765.58,389.98 L766.40,388.17 L767.31,386.40 L768.36,384.73 L769.57,383.17 L770.91,381.70 L772.30,380.28 L773.67,378.84 L774.98,377.34 L776.26,375.81 L777.55,374.28 L778.87,372.79 L780.24,371.33 L781.65,369.92 L783.12,368.56 L784.63,367.27 L786.20,366.03 L787.78,364.81 L789.36,363.59 L790.90,362.32 L792.40,361.00 L793.88,359.65 L795.34,358.28 L796.78,356.90 L798.22,355.51 L799.66,354.13 L801.12,352.75 L802.59,351.41 L804.11,350.11 L805.66,348.85 L807.25,347.64 L808.88,346.48 L810.53,345.36 L812.22,344.29 L813.93,343.25 L815.65,342.23 L817.37,341.21 L819.09,340.19 L820.81,339.17 L822.52,338.13 L824.22,337.08 L825.91,336.02 L827.60,334.94 L829.28,333.86 L830.96,332.77 L832.64,331.69 L834.32,330.61 L836.02,329.54 L837.72,328.50 L839.44,327.47 L841.17,326.48 L842.93,325.53 L844.71,324.63 L846.52,323.79 L848.36,323.00 L850.22,322.28 L852.10,321.59 L853.99,320.94 L855.89,320.31 L857.79,319.70 L859.70,319.09 L861.60,318.48 L863.51,317.87 L865.42,317.28 L867.34,316.73 L869.27,316.21 L871.21,315.73 L873.16,315.30 L875.12,314.89 L877.08,314.50 L879.05,314.13 L881.01,313.77 L882.98,313.42 L884.95,313.07 L886.92,312.73 L888.89,312.39 L890.86,312.05 L892.84,311.71 L894.81,311.37 L896.78,311.02 L898.75,310.69 L900.72,310.35 L902.69,310.04 L904.67,309.73 L906.65,309.45 L908.63,309.19 L910.62,308.93 L912.60,308.69 L914.59,308.46 L916.58,308.23 L918.56,308.01 L920.55,307.79 L922.54,307.58 L924.53,307.38 L926.52,307.18 L928.51,306.99 L930.50,306.81 L932.50,306.64 L934.49,306.48 L936.48,306.34 L938.48,306.20 L940.48,306.08 L942.47,305.97 L944.47,305.87 L946.47,305.78 L948.47,305.72 L950.47,305.67 L952.46,305.64 L954.46,305.61 L956.46,305.60 L958.46,305.58 L960.46,305.57 L962.46,305.56 L964.46,305.55 L966.46,305.53 L968.46,305.52 L970.46,305.51 L972.46,305.49 L974.46,305.48 L976.46,305.47 L978.46,305.45 L980.46,305.44 L982.46,305.43 L984.46,305.42 L986.46,305.41 L988.46,305.40 L990.46,305.39 L992.46,305.38 L994.46,305.37 L996.46,305.36 L998.46,305.35 L1000.46,305.34 L1002.46,305.33 L1004.46,305.32 L1006.46,305.32 L1008.46,305.31 L1010.46,305.30 L1012.46,305.29 L1014.46,305.28 L1016.46,305.27 L1018.46,305.27 L1020.46,305.26 L1022.46,305.25 L1024.46,305.24 L1026.46,305.23 L1028.46,305.23 L1030.46,305.22 L1032.46,305.21 L1034.46,305.20 L1036.46,305.19 L1038.46,305.19 L1040.46,305.18 L1042.46,305.17 L1044.46,305.16 L1046.46,305.16 L1048.46,305.15 L1050.46,305.14 L1052.46,305.14 L1054.46,305.13 L1056.46,305.12 L1058.46,305.11 L1060.46,305.11 L1062.46,305.10 L1064.46,305.09 L1066.46,305.08 L1068.46,305.08 L1070.46,305.07 L1072.46,305.06 L1074.46,305.05 L1076.46,305.05 L1078.46,305.04 L1080.46,305.03 L1082.46,305.02 L1084.46,305.02 L1086.46,305.01 L1088.46,305.00"/>
<path d="M723.50,578.30 L723.68,576.31 L723.85,574.32 L724.03,572.32 L724.20,570.33 L724.38,568.34 L724.56,566.35 L724.74,564.36 L724.93,562.36 L725.12,560.37 L725.31,558.38 L725.52,556.39 L725.72,554.40 L725.94,552.41 L726.15,550.43 L726.37,548.44 L726.60,546.45 L726.83,544.47 L727.07,542.48 L727.31,540.49 L727.56,538.51 L727.82,536.53 L728.07,534.54 L728.33,532.56 L728.60,530.58 L728.86,528.60 L729.13,526.61 L729.40,524.63 L729.67,522.65 L729.94,520.67 L730.21,518.69 L730.48,516.70 L730.75,514.72 L731.03,512.74 L731.30,510.76 L731.59,508.78 L731.88,506.80 L732.18,504.83 L732.50,502.85 L732.85,500.88 L733.23,498.92 L733.65,496.97 L734.12,495.02 L734.63,493.09 L735.19,491.17 L735.75,489.25 L736.28,487.33 L736.76,485.39 L737.19,483.44 L737.59,481.48 L737.96,479.51 L738.33,477.55 L738.69,475.58 L739.05,473.61 L739.41,471.65 L739.77,469.68 L740.14,467.71 L740.51,465.75 L740.91,463.79 L741.33,461.84 L741.78,459.89 L742.23,457.94 L742.70,455.99 L743.16,454.05 L743.63,452.10 L744.10,450.16 L744.58,448.22 L745.08,446.28 L745.61,444.35 L746.16,442.43 L746.75,440.52 L747.38,438.63 L748.06,436.75 L748.78,434.88 L749.50,433.02 L750.20,431.15 L750.86,429.26 L751.47,427.36 L752.05,425.44 L752.62,423.53 L753.20,421.61 L753.80,419.71 L754.45,417.82 L755.17,415.96 L755.98,414.15 L756.94,412.41 L758.02,410.75 L759.19,409.14 L760.40,407.55 L761.63,405.97 L762.87,404.41 L764.14,402.86 L765.43,401.33 L766.73,399.82 L768.06,398.32 L769.41,396.84 L770.78,395.38 L772.17,393.95 L773.57,392.53 L774.98,391.11 L776.40,389.69 L777.81,388.28 L779.22,386.86 L780.64,385.45 L782.06,384.04 L783.49,382.65 L784.93,381.26 L786.38,379.88 L787.84,378.51 L789.32,377.17 L790.82,375.85 L792.35,374.56 L793.90,373.30 L795.48,372.07 L797.07,370.86 L798.68,369.68 L800.31,368.52 L801.96,367.39 L803.63,366.29 L805.31,365.21 L807.02,364.17 L808.76,363.19 L810.53,362.27 L812.34,361.44 L814.18,360.66 L816.04,359.93 L817.91,359.20 L819.77,358.48 L821.63,357.75 L823.49,357.02 L825.35,356.28 L827.21,355.54 L829.07,354.82 L830.95,354.14 L832.85,353.52 L834.77,352.96 L836.71,352.48 L838.66,352.07 L840.63,351.75 L842.61,351.49 L844.60,351.28 L846.59,351.11 L848.59,350.97 L850.58,350.82 L852.57,350.67 L854.57,350.54 L856.56,350.43 L858.56,350.34 L860.56,350.26 L862.56,350.17 L864.56,350.07 L866.55,349.97 L868.55,349.89 L870.55,349.82 L872.55,349.77 L874.55,349.72 L876.55,349.69 L878.55,349.66 L880.55,349.63 L882.55,349.61 L884.55,349.59 L886.55,349.57 L888.55,349.56 L890.55,349.55 L892.55,349.53 L894.55,349.52 L896.55,349.51 L898.55,349.51 L900.55,349.50 L902.55,349.49 L904.55,349.49 L906.55,349.48 L908.55,349.48 L910.55,349.47 L912.55,349.47 L914.55,349.47 L916.55,349.46 L918.55,349.46 L920.55,349.46 L922.55,349.46 L924.55,349.45 L926.55,349.45 L928.55,349.45 L930.55,349.45 L932.55,349.45 L934.55,349.45 L936.55,349.45 L938.55,349.44 L940.55,349.44 L942.55,349.44 L944.55,349.44 L946.55,349.44 L948.55,349.44 L950.55,349.44 L952.55,349.44 L954.55,349.44 L956.55,349.44 L958.55,349.44 L960.55,349.44 L962.55,349.44 L964.55,349.44 L966.55,349.44 L968.55,349.44 L970.55,349.44 L972.55,349.44 L974.55,349.44 L976.55,349.44 L978.55,349.44 L980.55,349.44 L982.55,349.44 L984.55,349.45 L986.55,349.45 L988.55,349.45 L990.55,349.45 L992.55,349.45 L994.55,349.45 L996.55,349.45 L998.55,349.45 L1000.55,349.45 L1002.55,349.45 L1004.55,349.45 L1006.55,349.45 L1008.55,349.46 L1010.55,349.46 L1012.55,349.46 L1014.55,349.46 L1016.55,349.46 L1018.55,349.46 L1020.55,349.46 L1022.55,349.46 L1024.55,349.46 L1026.55,349.47 L1028.55,349.47 L1030.55,349.47 L1032.55,349.47 L1034.55,349.47 L1036.55,349.47 L1038.55,349.47 L1040.55,349.47 L1042.55,349.48 L1044.55,349.48 L1046.55,349.48 L1048.55,349.48 L1050.55,349.48 L1052.55,349.48 L1054.55,349.48 L1056.55,349.48 L1058.55,349.49 L1060.55,349.49 L1062.55,349.49 L1064.55,349.49 L1066.55,349.49 L1068.55,349.49 L1070.55,349.49 L1072.55,349.49 L1074.55,349.50 L1076.55,349.50 L1078.55,349.50 L1080.55,349.50 L1082.55,349.50 L1084.55,349.50 L1086.55,349.50 L1088.55,349.50"/>
<path d="M723.50,578.30 L723.68,576.31 L723.85,574.32 L724.03,572.32 L724.20,570.33 L724.38,568.34 L724.56,566.35 L724.74,564.36 L724.93,562.36 L725.12,560.37 L725.31,558.38 L725.52,556.39 L725.72,554.40 L725.94,552.41 L726.15,550.43 L726.37,548.44 L726.60,546.45 L726.83,544.47 L727.07,542.48 L727.31,540.49 L727.56,538.51 L727.82,536.53 L728.07,534.54 L728.33,532.56 L728.60,530.58 L728.86,528.60 L729.13,526.61 L729.40,524.63 L729.67,522.65 L729.94,520.67 L730.21,518.69 L730.48,516.70 L730.75,514.72 L731.03,512.74 L731.30,510.76 L731.59,508.78 L731.88,506.80 L732.18,504.83 L732.50,502.85 L732.84,500.88 L733.22,498.93 L733.69,497.00 L734.32,495.15 L735.16,493.41 L736.20,491.76 L737.32,490.14 L738.43,488.49 L739.47,486.79 L740.45,485.05 L741.38,483.28 L742.27,481.49 L743.16,479.70 L744.04,477.90 L744.92,476.10 L745.80,474.31 L746.70,472.52 L747.63,470.75 L748.60,469.01 L749.62,467.29 L750.70,465.61 L751.82,463.95 L752.98,462.33 L754.17,460.72 L755.38,459.13 L756.62,457.56 L757.89,456.02 L759.20,454.51 L760.54,453.03 L761.93,451.58 L763.34,450.17 L764.79,448.79 L766.25,447.43 L767.74,446.10 L769.25,444.79 L770.81,443.55 L772.43,442.39 L774.12,441.35 L775.89,440.44 L777.72,439.68 L779.60,439.03 L781.52,438.48 L783.46,438.02 L785.42,437.61 L787.39,437.25 L789.36,436.94 L791.34,436.67 L793.31,436.43 L795.20,436.24 L796.83,436.09 L797.81,435.96 L797.82,435.87 L796.86,435.81 L795.32,435.77 L793.76,435.74 L792.72,435.71 L792.62,435.68 L793.51,435.65 L795.08,435.63 L796.97,435.61 L798.94,435.60 L800.94,435.58 L802.94,435.57 L804.94,435.56 L806.94,435.55 L808.94,435.53 L810.94,435.52 L812.94,435.51 L814.94,435.50 L816.94,435.49 L818.94,435.48 L820.94,435.47 L822.94,435.46 L824.94,435.45 L826.94,435.44 L828.94,435.43 L830.94,435.42 L832.94,435.41 L834.94,435.40 L836.94,435.39 L838.94,435.38 L840.94,435.37 L842.94,435.36 L844.94,435.35 L846.94,435.34 L848.94,435.33 L850.94,435.32 L852.94,435.31 L854.94,435.30 L856.94,435.29 L858.94,435.29 L860.94,435.28 L862.94,435.27 L864.94,435.26 L866.94,435.25 L868.94,435.24 L870.94,435.23 L872.94,435.22 L874.94,435.21 L876.94,435.20 L878.94,435.20 L880.94,435.19 L882.94,435.18 L884.94,435.17 L886.94,435.16 L888.94,435.15 L890.94,435.14 L892.94,435.13 L894.94,435.12 L896.94,435.12 L898.94,435.11 L900.94,435.10 L902.94,435.09 L904.94,435.08 L906.94,435.07 L908.94,435.06 L910.94,435.05 L912.94,435.05 L914.94,435.04 L916.94,435.03 L918.94,435.02 L920.94,435.01 L922.94,435.00 L924.94,434.99 L926.94,434.99 L928.94,434.98 L930.94,434.97 L932.94,434.96 L934.94,434.95 L936.94,434.94 L938.94,434.93 L940.94,434.93 L942.94,434.92 L944.94,434.91 L946.94,434.90 L948.94,434.89 L950.94,434.88 L952.94,434.87 L954.94,434.87 L956.94,434.86 L958.94,434.85 L960.94,434.84 L962.94,434.83 L964.94,434.82 L966.94,434.81 L968.94,434.81 L970.94,434.80 L972.94,434.79 L974.94,434.78 L976.94,434.77 L978.94,434.76 L980.94,434.76 L982.94,434.75 L984.94,434.74 L986.94,434.73 L988.94,434.72 L990.94,434.71 L992.94,434.70 L994.94,434.70 L996.94,434.69 L998.94,434.68 L1000.94,434.67 L1002.94,434.66 L1004.94,434.65 L1006.94,434.65 L1008.94,434.64 L1010.94,434.63 L1012.94,434.62 L1014.94,434.61 L1016.94,434.60 L1018.94,434.60 L1020.94,434.59 L1022.94,434.58 L1024.94,434.57 L1026.94,434.56 L1028.94,434.55 L1030.94,434.54 L1032.94,434.54 L1034.94,434.53 L1036.94,434.52 L1038.94,434.51 L1040.94,434.50 L1042.94,434.49 L1044.94,434.49 L1046.94,434.48 L1048.94,434.47 L1050.94,434.46 L1052.94,434.45 L1054.94,434.44 L1056.94,434.44 L1058.94,434.43 L1060.94,434.42 L1062.94,434.41 L1064.94,434.40 L1066.94,434.39 L1068.94,434.38 L1070.94,434.38 L1072.94,434.37 L1074.94,434.36 L1076.94,434.35 L1078.94,434.34 L1080.94,434.33 L1082.94,434.32 L1084.94,434.32 L1086.94,434.31 L1087.94,434.30"/>
</g>
<g fill="#383838" stroke="#383838" stroke-width="0.3">
<text transform="translate(154.54,242.27) scale(0.8102,1)" font-family="Liberation Sans" font-size="32.51" font-style="italic" stroke="#fcfcfc" stroke-width="0.35">ɑ</text>
<text transform="translate(173.21,240.00) scale(0.8138,1)" font-family="Liberation Sans" font-size="30.35" font-style="italic" stroke="#fcfcfc" stroke-width="0.35">)</text>
<text transform="translate(190.13,274.00) scale(0.6498,1)" font-family="Liberation Sans" font-size="25.45" font-style="italic" >A</text>
<path d="M182.04,310.53 L185.92,297.27 L180.25,302.84" fill="none" stroke-width="1.70" stroke-linecap="round" stroke-linejoin="round"/>
<text transform="translate(188.50,311.38) scale(0.7870,1)" font-family="Liberation Sans" font-size="21.77" font-style="italic" >0</text>
<path d="M204.79,300.85 L207.26,290.25 L203.65,294.70" fill="none" stroke-width="1.70" stroke-linecap="round" stroke-linejoin="round"/>
<path d="M180.90,401.62 L184.70,387.58 L179.15,393.48" fill="none" stroke-width="1.70" stroke-linecap="round" stroke-linejoin="round"/>
<text transform="translate(187.25,402.47) scale(0.7360,1)" font-family="Liberation Sans" font-size="22.90" font-style="italic" >0</text>
<text transform="translate(199.77,393.73) scale(1.0024,1)" font-family="Liberation Sans" font-size="17.10" font-style="italic" >0</text>
<path d="M170.45,492.91 L174.36,478.09 L168.65,484.31" fill="none" stroke-width="1.70" stroke-linecap="round" stroke-linejoin="round"/>
<text transform="translate(176.95,493.76) scale(0.7167,1)" font-family="Liberation Sans" font-size="24.03" font-style="italic" >0</text>
<text transform="translate(187.80,483.78) scale(1.3152,1)" font-family="Liberation Sans" font-size="17.00" font-style="italic" >−</text>
<path d="M205.19,484.45 L208.31,472.35 L203.75,477.43" fill="none" stroke-width="1.70" stroke-linecap="round" stroke-linejoin="round"/>
<path d="M170.74,584.32 L174.62,569.98 L168.95,576.00" fill="none" stroke-width="1.70" stroke-linecap="round" stroke-linejoin="round"/>
<text transform="translate(177.20,585.17) scale(0.7345,1)" font-family="Liberation Sans" font-size="23.32" font-style="italic" >0</text>
<text transform="translate(187.53,575.18) scale(1.3876,1)" font-family="Liberation Sans" font-size="17.00" font-style="italic" >−</text>
<text transform="translate(201.03,576.50) scale(0.9154,1)" font-family="Liberation Sans" font-size="19.07" font-style="italic" >2</text>
<text transform="translate(154.89,428.90)" font-family="Liberation Serif" font-size="26.72" font-style="italic" >I</text>
<text transform="translate(162.67,432.74) scale(0.9321,1)" font-family="Liberation Sans" font-size="16.11" font-style="italic" >C</text>
<text transform="translate(204.16,599.98) scale(0.8880,1)" font-family="Liberation Sans" font-size="22.19" font-style="italic" >0</text>
<text transform="translate(285.67,600.20) scale(1.0339,1)" font-family="Liberation Sans" font-size="22.51" font-style="italic" >2</text>
<text transform="translate(362.38,600.20) scale(1.0203,1)" font-family="Liberation Sans" font-size="22.84" font-style="italic" >4</text>
<text transform="translate(439.73,599.98) scale(0.9596,1)" font-family="Liberation Sans" font-size="22.19" font-style="italic" >6</text>
<text transform="translate(518.96,599.98) scale(0.9739,1)" font-family="Liberation Sans" font-size="22.19" font-style="italic" >8</text>
<text transform="translate(559.24,600.20) scale(0.7497,1)" font-family="Liberation Sans" font-size="22.84" font-style="italic" >V</text>
<path d="M594.89,599.13 L598.87,585.57 L593.05,591.27" fill="none" stroke-width="1.70" stroke-linecap="round" stroke-linejoin="round"/>
<text transform="translate(601.50,599.98) scale(0.7886,1)" font-family="Liberation Sans" font-size="22.19" font-style="italic" >0</text>
<text transform="translate(371.92,626.19) scale(0.9909,1)" font-family="Liberation Sans" font-size="20.65" font-style="italic" >U</text>
<text transform="translate(386.96,630.31) scale(0.8087,1)" font-family="Liberation Sans" font-size="18.94" font-style="italic" >CE</text>
<text transform="translate(638.01,242.66) scale(0.9248,1)" font-family="Liberation Sans" font-size="34.01" font-style="italic" stroke="#fcfcfc" stroke-width="0.35">b</text>
<text transform="translate(656.18,238.88) scale(0.7212,1)" font-family="Liberation Sans" font-size="32.39" font-style="italic" stroke="#fcfcfc" stroke-width="0.35">)</text>
<text transform="translate(672.26,275.90) scale(0.6974,1)" font-family="Liberation Sans" font-size="24.58" font-style="italic" >A</text>
<path d="M667.64,331.14 L670.87,318.16 L666.15,323.61" fill="none" stroke-width="1.70" stroke-linecap="round" stroke-linejoin="round"/>
<text transform="translate(673.22,331.99) scale(0.6985,1)" font-family="Liberation Sans" font-size="21.34" font-style="italic" >0</text>
<path d="M687.17,321.35 L691.33,310.85 L685.25,315.26" fill="none" stroke-width="1.70" stroke-linecap="round" stroke-linejoin="round"/>
<path d="M663.89,456.15 L667.66,444.05 L662.15,449.13" fill="none" stroke-width="1.70" stroke-linecap="round" stroke-linejoin="round"/>
<text transform="translate(670.20,457.00) scale(0.8350,1)" font-family="Liberation Sans" font-size="20.07" font-style="italic" >0</text>
<text transform="translate(681.64,447.94) scale(1.1429,1)" font-family="Liberation Sans" font-size="15.69" font-style="italic" >0</text>
<path d="M656.33,585.91 L660.18,571.29 L654.55,577.43" fill="none" stroke-width="1.70" stroke-linecap="round" stroke-linejoin="round"/>
<text transform="translate(662.75,586.76) scale(0.7175,1)" font-family="Liberation Sans" font-size="23.75" font-style="italic" >0</text>
<text transform="translate(672.24,575.98) scale(1.3756,1)" font-family="Liberation Sans" font-size="17.00" font-style="italic" >−</text>
<path d="M689.35,577.95 L692.60,565.15 L687.85,570.53" fill="none" stroke-width="1.70" stroke-linecap="round" stroke-linejoin="round"/>
<text transform="translate(635.27,429.00)" font-family="Liberation Serif" font-size="26.26" font-style="italic" >I</text>
<text transform="translate(643.36,432.81) scale(0.7308,1)" font-family="Liberation Sans" font-size="18.52" font-style="italic" >C</text>
<text transform="translate(689.29,601.07) scale(0.9322,1)" font-family="Liberation Sans" font-size="23.04" font-style="italic" >0</text>
<text transform="translate(768.75,601.30) scale(0.8558,1)" font-family="Liberation Sans" font-size="23.37" font-style="italic" >2</text>
<text transform="translate(842.19,601.30) scale(0.9336,1)" font-family="Liberation Sans" font-size="23.71" font-style="italic" >4</text>
<text transform="translate(923.46,601.07) scale(0.9761,1)" font-family="Liberation Sans" font-size="23.04" font-style="italic" >6</text>
<text transform="translate(1002.39,601.07) scale(0.8804,1)" font-family="Liberation Sans" font-size="23.04" font-style="italic" >8</text>
<text transform="translate(1040.49,601.30) scale(0.6518,1)" font-family="Liberation Sans" font-size="23.71" font-style="italic" >V</text>
<path d="M1077.50,600.22 L1081.51,586.08 L1075.65,592.02" fill="none" stroke-width="1.70" stroke-linecap="round" stroke-linejoin="round"/>
<text transform="translate(1084.14,601.07) scale(0.7636,1)" font-family="Liberation Sans" font-size="23.04" font-style="italic" >0</text>
<text transform="translate(857.32,627.19) scale(0.9909,1)" font-family="Liberation Sans" font-size="20.65" font-style="italic" >U</text>
<text transform="translate(871.40,631.80) scale(0.7379,1)" font-family="Liberation Sans" font-size="19.65" font-style="italic" >CE</text>
<text transform="translate(341.46,267.90) rotate(-23.00) scale(1.3500,1)" font-family="Liberation Sans" font-size="21.00" font-style="italic" >=</text>
<text transform="translate(359.07,259.11) rotate(-23.00) scale(0.8500,1)" font-family="Liberation Sans" font-size="21.00" font-style="italic" >2</text>
<text transform="translate(368.40,255.26) rotate(-23.00) scale(0.8500,1)" font-family="Liberation Sans" font-size="21.00" font-style="italic" >0</text>
<text transform="translate(377.50,250.24) rotate(-23.00) scale(0.8500,1)" font-family="Liberation Sans" font-size="21.00" font-style="italic" >V</text>
<text transform="translate(458.83,270.00) scale(1.3480,1)" font-family="Liberation Sans" font-size="21.00" font-style="italic" >=</text>
<path d="M478.77,269.90 L482.07,254.45 L477.25,260.94" fill="none" stroke-width="1.70" stroke-linecap="round" stroke-linejoin="round"/>
<text transform="translate(484.44,270.75) scale(0.6068,1)" font-family="Liberation Sans" font-size="24.95" font-style="italic" >5</text>
<text transform="translate(498.74,270.60) scale(0.6765,1)" font-family="Liberation Sans" font-size="25.31" font-style="italic" >V</text>
<text transform="translate(460.49,317.60) scale(1.3773,1)" font-family="Liberation Sans" font-size="21.00" font-style="italic" >=</text>
<path d="M483.55,317.41 L487.67,302.29 L481.65,308.64" fill="none" stroke-width="1.70" stroke-linecap="round" stroke-linejoin="round"/>
<text transform="translate(490.34,318.26) scale(0.7346,1)" font-family="Liberation Sans" font-size="24.45" font-style="italic" >0</text>
<text transform="translate(504.00,316.90) scale(0.7052,1)" font-family="Liberation Sans" font-size="23.42" font-style="italic" >V</text>
<text transform="translate(459.93,360.90) scale(1.5043,1)" font-family="Liberation Sans" font-size="21.00" font-style="italic" >=</text>
<text transform="translate(478.80,361.40) scale(0.8236,1)" font-family="Liberation Sans" font-size="26.04" font-style="italic" >7</text>
<text transform="translate(493.52,361.40) scale(0.7158,1)" font-family="Liberation Sans" font-size="26.04" font-style="italic" >V</text>
<text transform="translate(425.05,440.55) scale(0.6439,1)" font-family="Liberation Sans" font-size="24.66" font-style="italic" >U</text>
<text transform="translate(437.86,444.32) scale(0.7443,1)" font-family="Liberation Sans" font-size="18.23" font-style="italic" >GE</text>
<text transform="translate(463.72,438.15) scale(1.4359,1)" font-family="Liberation Sans" font-size="21.00" font-style="italic" >=</text>
<text transform="translate(482.96,439.94) scale(0.7655,1)" font-family="Liberation Sans" font-size="25.52" font-style="italic" >5</text>
<text transform="translate(495.34,439.60) scale(0.8095,1)" font-family="Liberation Sans" font-size="24.15" font-style="italic" >V</text>
<text transform="translate(432.36,518.14) scale(1.0941,1)" font-family="Liberation Sans" font-size="22.95" font-style="italic" >Impuls</text>
<text transform="translate(517.22,517.99) scale(0.7597,1)" font-family="Liberation Sans" font-size="21.06" font-style="italic" >20</text>
<text transform="translate(542.07,519.07) scale(1.1907,1)" font-family="Liberation Sans" font-size="24.22" font-style="italic" >µ</text>
<text transform="translate(558.55,517.98) scale(0.9732,1)" font-family="Liberation Sans" font-size="21.74" font-style="italic" >s</text>
<text transform="translate(445.63,544.90) scale(0.9314,1)" font-family="Liberation Sans" font-size="24.15" font-style="italic" >T</text>
<text transform="translate(453.97,548.21) scale(0.6885,1)" font-family="Liberation Sans" font-size="19.22" font-style="italic" >C</text>
<text transform="translate(467.86,544.05) scale(1.3284,1)" font-family="Liberation Sans" font-size="21.00" font-style="italic" >=</text>
<text transform="translate(486.34,544.07) scale(0.7898,1)" font-family="Liberation Sans" font-size="23.46" font-style="italic" >25</text>
<circle cx="518.7" cy="531.6" r="2.6" fill="none" stroke-width="1.5"/>
<text transform="translate(520.83,544.67) scale(0.7776,1)" font-family="Liberation Sans" font-size="22.76" font-style="italic" >C</text>
<text transform="translate(941.81,251.32) rotate(-11.00) scale(1.3000,1)" font-family="Liberation Sans" font-size="21.00" font-style="italic" >=</text>
<text transform="translate(962.56,247.25) rotate(-11.00) scale(0.8500,1)" font-family="Liberation Sans" font-size="21.00" font-style="italic" >2</text>
<text transform="translate(971.94,245.10) rotate(-11.00) scale(0.8500,1)" font-family="Liberation Sans" font-size="21.00" font-style="italic" >0</text>
<text transform="translate(986.26,242.30) rotate(-11.00) scale(0.8500,1)" font-family="Liberation Sans" font-size="21.00" font-style="italic" >V</text>
<text transform="translate(942.41,288.39) rotate(-6.00) scale(1.3000,1)" font-family="Liberation Sans" font-size="21.00" font-style="italic" >=</text>
<path d="M964.08,283.65 L966.74,268.55 L962.85,274.89" fill="none" stroke-width="1.70" stroke-linecap="round" stroke-linejoin="round"/>
<text transform="translate(969.82,282.57) rotate(-6.00) scale(0.8500,1)" font-family="Liberation Sans" font-size="21.00" font-style="italic" >5</text>
<text transform="translate(982.84,281.20) rotate(-6.00) scale(0.8500,1)" font-family="Liberation Sans" font-size="21.00" font-style="italic" >V</text>
<text transform="translate(940.53,329.35) scale(1.3480,1)" font-family="Liberation Sans" font-size="21.00" font-style="italic" >=</text>
<path d="M964.42,328.59 L968.02,312.61 L962.75,319.32" fill="none" stroke-width="1.70" stroke-linecap="round" stroke-linejoin="round"/>
<text transform="translate(970.51,329.44) scale(0.6299,1)" font-family="Liberation Sans" font-size="25.72" font-style="italic" >0</text>
<text transform="translate(982.81,329.70) scale(0.7842,1)" font-family="Liberation Sans" font-size="25.31" font-style="italic" >V</text>
<text transform="translate(941.04,372.60) scale(1.4945,1)" font-family="Liberation Sans" font-size="21.00" font-style="italic" >=</text>
<text transform="translate(959.74,371.90) scale(0.8658,1)" font-family="Liberation Sans" font-size="24.29" font-style="italic" >7</text>
<text transform="translate(977.49,372.70) scale(0.5595,1)" font-family="Liberation Sans" font-size="25.45" font-style="italic" >V</text>
<text transform="translate(900.28,426.25) scale(0.6694,1)" font-family="Liberation Sans" font-size="25.09" font-style="italic" >U</text>
<text transform="translate(912.46,429.94) scale(0.9447,1)" font-family="Liberation Sans" font-size="16.40" font-style="italic" >GE</text>
<text transform="translate(939.65,426.85) scale(1.4847,1)" font-family="Liberation Sans" font-size="21.00" font-style="italic" >=</text>
<text transform="translate(960.74,425.56) scale(0.8419,1)" font-family="Liberation Sans" font-size="24.09" font-style="italic" >5</text>
<text transform="translate(975.01,425.80) scale(0.7552,1)" font-family="Liberation Sans" font-size="23.27" font-style="italic" >V</text>
<text transform="translate(918.83,517.40) scale(0.9850,1)" font-family="Liberation Sans" font-size="23.59" font-style="italic" >Impuls</text>
<text transform="translate(996.44,517.96) scale(0.7426,1)" font-family="Liberation Sans" font-size="24.45" font-style="italic" >20</text>
<text transform="translate(1021.97,518.47) scale(1.0909,1)" font-family="Liberation Sans" font-size="24.22" font-style="italic" >µ</text>
<text transform="translate(1039.64,518.56) scale(0.9365,1)" font-family="Liberation Sans" font-size="23.93" font-style="italic" >s</text>
<text transform="translate(921.86,545.50) scale(0.9612,1)" font-family="Liberation Sans" font-size="24.29" font-style="italic" >T</text>
<text transform="translate(930.77,549.41) scale(0.7813,1)" font-family="Liberation Sans" font-size="19.22" font-style="italic" >C</text>
<text transform="translate(944.80,545.25) scale(1.2210,1)" font-family="Liberation Sans" font-size="21.00" font-style="italic" >=</text>
<path d="M966.81,544.41 L971.71,529.89 L964.55,535.99" fill="none" stroke-width="1.70" stroke-linecap="round" stroke-linejoin="round"/>
<text transform="translate(974.66,545.26) scale(0.8745,1)" font-family="Liberation Sans" font-size="23.60" font-style="italic" >5</text>
<text transform="translate(986.14,545.26) scale(0.8745,1)" font-family="Liberation Sans" font-size="23.60" font-style="italic" >0</text>
<circle cx="1004.7" cy="532.7" r="2.7" fill="none" stroke-width="1.5"/>
<text transform="translate(1007.18,544.69) scale(0.8826,1)" font-family="Liberation Sans" font-size="21.06" font-style="italic" >C</text>
</g>
<g fill="#333" stroke="#333" stroke-width="0.4">
<text transform="translate(156.51,690.80) scale(1.0750,1)" font-family="Liberation Serif" font-size="24.00" font-weight="bold" >Rys.</text>
<text transform="translate(211.89,690.80) scale(1.1263,1)" font-family="Liberation Serif" font-size="24.00" font-weight="bold" >3.13.</text>
<text transform="translate(276.21,690.80) scale(1.1635,1)" font-family="Liberation Serif" font-size="24.00" >Typowe</text>
<text transform="translate(374.36,690.80) scale(1.1504,1)" font-family="Liberation Serif" font-size="24.00" >charakterystyki</text>
<text transform="translate(556.10,690.80) scale(1.0577,1)" font-family="Liberation Serif" font-size="24.00" >wyjściowe</text>
<text transform="translate(675.29,690.80)" font-family="Liberation Serif" font-size="24.00" font-style="italic" >I</text>
<text transform="translate(683.47,694.30) scale(0.9922,1)" font-family="Liberation Serif" font-size="17.00" font-style="italic" >C</text>
<text transform="translate(700.96,694.58) scale(1.5248,1)" font-family="Liberation Serif" font-size="24.00" >=</text>
<text transform="translate(725.04,690.80)" font-family="Liberation Serif" font-size="24.00" font-style="italic" >f</text>
<text transform="translate(736.36,690.80)" font-family="Liberation Serif" font-size="24.00" >(</text>
<text transform="translate(742.79,690.80) scale(1.2061,1)" font-family="Liberation Serif" font-size="24.00" font-style="italic" >U</text>
<text transform="translate(764.37,694.30) scale(0.9987,1)" font-family="Liberation Serif" font-size="17.00" font-style="italic" >CE</text>
<text transform="translate(785.66,690.80)" font-family="Liberation Serif" font-size="24.00" >)</text>
<text transform="translate(803.89,690.80) scale(1.1419,1)" font-family="Liberation Serif" font-size="24.00" >tranzystora</text>
<text transform="translate(935.03,690.80) scale(1.1537,1)" font-family="Liberation Serif" font-size="24.00" >IGBT</text>
<text transform="translate(1010.13,690.80) scale(1.1863,1)" font-family="Liberation Serif" font-size="24.00" >o</text>
<text transform="translate(1033.39,690.80) scale(1.1380,1)" font-family="Liberation Serif" font-size="24.00" >prądzie</text>
<text transform="translate(154.90,719.20) scale(1.0175,1)" font-family="Liberation Serif" font-size="24.00" >50</text>
<text transform="translate(187.78,719.20) scale(1.1955,1)" font-family="Liberation Serif" font-size="24.00" >A</text>
<text transform="translate(227.97,719.20) scale(1.1111,1)" font-family="Liberation Serif" font-size="24.00" >i</text>
<text transform="translate(255.80,719.20) scale(1.1194,1)" font-family="Liberation Serif" font-size="24.00" >napięciu</text>
<text transform="translate(367.89,719.20) scale(1.0915,1)" font-family="Liberation Serif" font-size="24.00" >600</text>
<text transform="translate(426.69,719.20) scale(1.3095,1)" font-family="Liberation Serif" font-size="24.00" >V,</text>
<text transform="translate(473.20,719.20) scale(1.1009,1)" font-family="Liberation Serif" font-size="24.00" >przy</text>
<text transform="translate(540.96,719.20) scale(1.1150,1)" font-family="Liberation Serif" font-size="24.00" >różnych</text>
<text transform="translate(647.89,719.20) scale(1.1484,1)" font-family="Liberation Serif" font-size="24.00" >temperaturach</text>
<text transform="translate(825.57,719.20) scale(1.1440,1)" font-family="Liberation Serif" font-size="24.00" >obudowy:</text>
<text transform="translate(953.59,719.20) scale(1.2024,1)" font-family="Liberation Serif" font-size="24.00" >a)</text>
<text transform="translate(996.90,719.20) scale(1.0500,1)" font-family="Liberation Serif" font-size="24.00" font-style="italic" >T</text>
<text transform="translate(1012.22,723.20) scale(1.0700,1)" font-family="Liberation Serif" font-size="15.00" font-style="italic" >c</text>
<text transform="translate(1025.38,723.93) scale(1.5071,1)" font-family="Liberation Serif" font-size="24.00" >=</text>
<text transform="translate(1052.07,719.20) scale(1.1111,1)" font-family="Liberation Serif" font-size="24.00" >25°C;</text>
<text transform="translate(156.10,747.50) scale(1.1340,1)" font-family="Liberation Serif" font-size="24.00" >b)</text>
<text transform="translate(188.85,747.50) scale(1.0500,1)" font-family="Liberation Serif" font-size="24.00" font-style="italic" >T</text>
<text transform="translate(203.30,751.00) scale(1.1193,1)" font-family="Liberation Serif" font-size="15.00" font-style="italic" >c</text>
<text transform="translate(216.89,750.43) scale(1.4982,1)" font-family="Liberation Serif" font-size="24.00" >=</text>
<text transform="translate(243.87,747.50) scale(1.1100,1)" font-family="Liberation Serif" font-size="24.00" >150°C</text>
</g>
<g stroke="#333" stroke-width="1.8" stroke-linecap="round" stroke-linejoin="round">
<line x1="163.1" y1="406.0" x2="163.1" y2="337.0"/>
<polyline points="158.1,352.0 163.1,337.0 168.1,352.0" fill="none"/>
<line x1="645.2" y1="406.8" x2="645.2" y2="342.3"/>
<polyline points="640.2,357.3 645.2,342.3 650.2,357.3" fill="none"/>
<line x1="414.0" y1="620.5" x2="485.0" y2="620.5"/>
<polyline points="470.0,616.0 485.0,620.5 470.0,625.0" fill="none"/>
<line x1="898.0" y1="620.7" x2="969.0" y2="620.7"/>
<polyline points="954.0,616.2 969.0,620.7 954.0,625.2" fill="none"/>
</g>
</svg>
</body></html>
